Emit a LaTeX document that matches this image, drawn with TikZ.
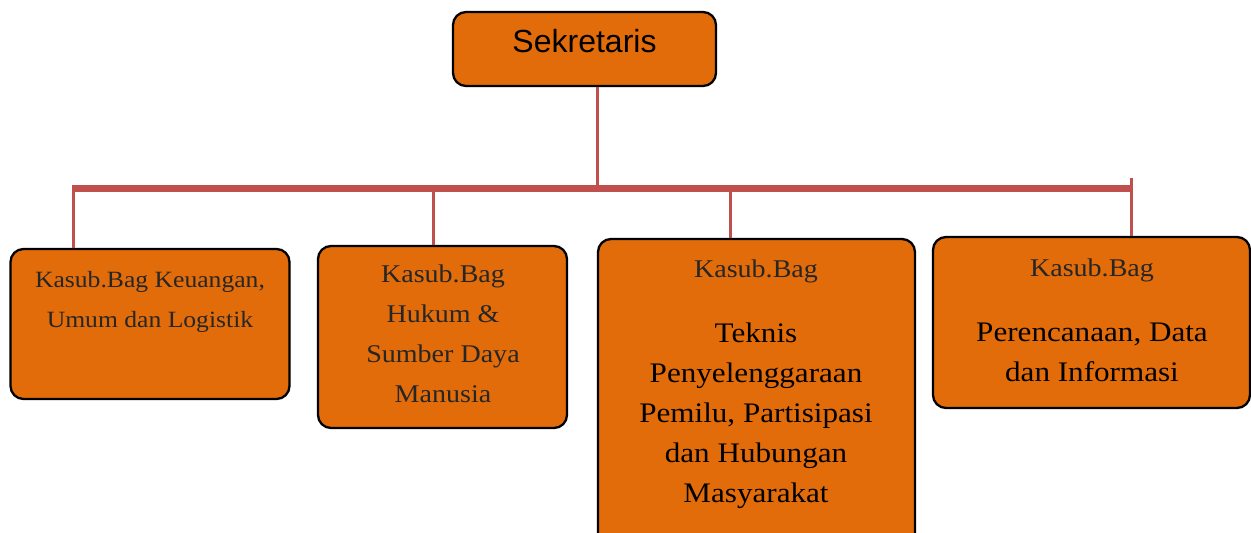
\documentclass[tikz,border=0pt]{standalone}
\usepackage{fontspec}
\setmainfont{Liberation Serif}[FakeStretch=1.1]
\newfontfamily\arialfont{Liberation Sans}
\definecolor{boxfill}{HTML}{E36C0A}
\definecolor{linkred}{HTML}{C0504D}
\definecolor{txtgray}{HTML}{262626}
\begin{document}
\begin{tikzpicture}[x=1pt,y=-1pt,
  orgbox/.style={draw=black,line width=2.3pt,fill=boxfill,rounded corners=13pt},
  thinlink/.style={draw=linkred,line width=3pt},
  thicklink/.style={draw=linkred,line width=7pt},
  lbl/.style={align=center,inner sep=0pt,anchor=base,text=txtgray,font=\fontsize{25.5}{40}\selectfont},
  biglbl/.style={align=center,inner sep=0pt,anchor=base,text=black,font=\fontsize{28.3}{40}\selectfont}]
\useasboundingbox (0,0) rectangle (1251,533);
\clip (0,0) rectangle (1251,533);
% boxes
\node[orgbox,inner sep=0pt,minimum width=263pt,minimum height=74pt] (sek) at (584.5,49) {};
\node[orgbox,inner sep=0pt,minimum width=279pt,minimum height=150pt] (b1) at (150,324) {};
\node[orgbox,inner sep=0pt,minimum width=249pt,minimum height=182pt] (b2) at (442.5,337) {};
\node[orgbox,inner sep=0pt,minimum width=317pt,minimum height=310pt] (b3) at (756.5,394) {};
\node[orgbox,inner sep=0pt,minimum width=317pt,minimum height=171pt] (b4) at (1091.5,322.5) {};
% connectors
\coordinate (hl) at (72,188);
\coordinate (hr) at (1133,188);
\coordinate (hm) at (597,188);
\draw[thinlink] (sek.south -| hm) -- (hm);
\draw[thicklink] (hl) -- (hr);
\coordinate (c1) at (73,186.5);
\coordinate (c2) at (433,186.5);
\coordinate (c3) at (730,186.5);
\coordinate (c4) at (1131,178);
\draw[thinlink] (c1) -- (c1 |- b1.north);
\draw[thinlink] (c2) -- (c2 |- b2.north);
\draw[thinlink] (c3) -- (c3 |- b3.north);
\draw[thinlink] (c4) -- (c4 |- b4.north);
% labels
\node[inner sep=0pt,anchor=base,font=\arialfont\fontsize{32}{36}\selectfont] (toplbl) at (584.5,52) {Sekretaris};
\node[lbl,font=\fontsize{23.3}{40}\selectfont] (t1) at (150,327) {Kasub.Bag Keuangan,\\Umum dan Logistik};
\node[lbl] (t2) at (443,402) {Kasub.Bag\\Hukum \&\\Sumber Daya\\Manusia};
\node[lbl] (t3a) at (756,277) {Kasub.Bag};
\node[biglbl] (t3b) at (756,502) {Teknis\\Penyelenggaraan\\Pemilu, Partisipasi\\dan Hubungan\\Masyarakat};
\node[lbl] (t4a) at (1092,276) {Kasub.Bag};
\node[biglbl] (t4b) at (1092,381) {Perencanaan, Data\\dan Informasi};
\end{tikzpicture}
\end{document}
